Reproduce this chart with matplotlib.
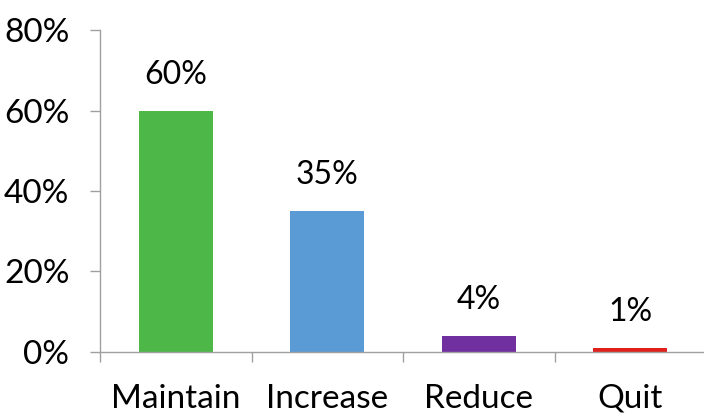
import numpy as np
import matplotlib.pyplot as plt

categories = ["Maintain", "Increase", "Reduce", "Quit"]
values = [60, 35, 4, 1]
colors = ["#4DB848", "#5B9BD5", "#7030A0", "#E0201B"]
yticks = [0, 20, 40, 60, 80]

plt.rcParams['font.family'] = ['Lato', 'DejaVu Sans']

fig = plt.figure(figsize=(7.04, 4.13), dpi=100)
ax = fig.add_axes([0.142, 0.148, 0.861, 0.779])

x = np.arange(len(categories))
bars = ax.bar(x, values, width=0.49, color=colors)

for b, v in zip(bars, values):
    ax.annotate(f"{v}%", (b.get_x() + b.get_width() / 2, v),
                xytext=(0, 15), textcoords="offset points",
                ha="center", va="bottom", fontsize=23)

ax.set_ylim(0, 80)
ax.set_xlim(-0.5, len(categories) - 0.5)
ax.set_yticks(yticks)
ax.set_yticklabels([f"{t}%" for t in yticks], fontsize=24)
ax.set_xticks(x)
ax.set_xticklabels(categories, fontsize=24)
ax.set_xticks(np.arange(len(categories) + 1) - 0.5, minor=True)

ax.tick_params(axis="x", which="major", length=0, pad=23)
ax.tick_params(axis="x", which="minor", length=7, color="#A0A0A0", width=1)
ax.tick_params(axis="y", length=7, color="#A0A0A0", width=1, pad=15)

for s in ["top", "right"]:
    ax.spines[s].set_visible(False)
for s in ["left", "bottom"]:
    ax.spines[s].set_color("#A0A0A0")
    ax.spines[s].set_linewidth(1)

fig.savefig("out.png", dpi=100)
